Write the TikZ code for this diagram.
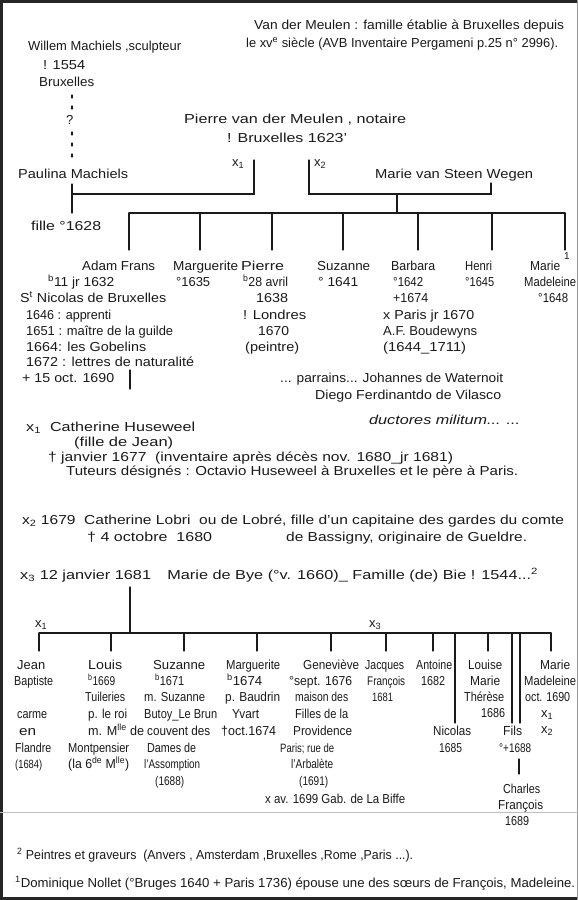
\documentclass[tikz,border=0pt]{standalone}
\usepackage{fontspec}
\setmainfont{Liberation Sans}
\usepackage{graphicx}
\definecolor{ink}{HTML}{1A1A1A}
\newsavebox\fitbox
\newlength\fitlen
\newcommand\fw[2]{\sbox\fitbox{#2}\setlength\fitlen{\wd\fitbox}\pgfmathsetmacro\fitfac{max(0.65,min(1.35,#1/\fitlen))}\pgfmathsetmacro\fitv{max(0.88,min(1,\fitfac+0.2))}\scalebox{\fitfac}[\fitv]{\usebox\fitbox}}
\tikzset{
  tx/.style={anchor=base west, inner sep=0pt, font=\fontsize{13}{15}\selectfont, text=ink},
  sm/.style={anchor=base west, inner sep=0pt, font=\fontsize{10}{12}\selectfont, text=ink},
  ln/.style={draw=ink, line width=1.2pt, line cap=round},
  dl/.style={ln, dash pattern=on 3pt off 8pt},
}
\begin{document}
\begin{tikzpicture}[x=1pt,y=-1pt]
\fill[white] (0,0) rectangle (578,900);
\useasboundingbox (0,0) rectangle (578,900);
% frame
\draw[line width=3pt, black!85] (0,1.5) -- (578,1.5);
\draw[line width=3pt, black!85] (1.5,0) -- (1.5,900);
\draw[line width=3pt, black!85] (0,898.5) -- (578,898.5);
\draw[line width=0.6pt, black!40] (577.5,0) -- (577.5,900);
\draw[line width=0.6pt, black!25] (0,812) -- (578,812);

% ---------- top ----------
\node[tx] (vdm1) at (254,29) {\fw{310}{Van der Meulen : famille établie à Bruxelles depuis}};
\node[tx] (vdm2) at (246,47) {\fw{312}{le xv\textsuperscript{e} siècle (AVB Inventaire Pergameni p.25 n° 2996).}};
\node[tx] (wil) at (28,50) {\fw{153}{Willem Machiels ,sculpteur}};
\node[tx] (wild) at (43,69) {\fw{42}{! 1554}};
\node[tx] (wilp) at (39,86) {\fw{55}{Bruxelles}};
\node[tx] (q) at (66,124) {?};
\coordinate (d1) at (72,95); \coordinate (d2) at (72,110);
\coordinate (d3) at (72,132); \coordinate (d4) at (72,160);
\draw[dl] (d1) -- (d2);
\draw[dl] (d3) -- (d4);

\node[tx] (pvm) at (184,123) {\fw{222}{Pierre van der Meulen , notaire}};
\node[tx] (pvmd) at (227,142) {\fw{120}{! Bruxelles 1623'}};
\node[tx] (xa) at (232,166) {x\textsubscript{1}};
\node[tx] (xb) at (314,166) {x\textsubscript{2}};
\node[tx] (pau) at (18,178) {\fw{110}{Paulina Machiels}};
\node[tx] (mvs) at (375,178) {\fw{158}{Marie van Steen Wegen}};
\node[tx] (fil) at (31,230) {\fw{70}{fille °1628}};

% brackets
\coordinate (pa1) at (72,184); \coordinate (pa2) at (72,213);
\coordinate (ba) at (72,194); \coordinate (bb) at (254,194); \coordinate (bc) at (254,160);
\draw[ln] (pa1) -- (pa2);
\draw[ln] (ba) -- (bb) -- (bc);
\coordinate (ra) at (309,160); \coordinate (rb) at (309,194);
\coordinate (rc) at (491,194); \coordinate (rd) at (491,183);
\draw[ln] (ra) -- (rb) -- (rc) -- (rd);
\coordinate (rm) at (397,194); \coordinate (rn) at (397,213);
\draw[ln] (rm) -- (rn);
\coordinate (barL) at (129,213); \coordinate (barR) at (565,213);
\draw[ln] (barL) -- (barR);
\foreach \x [count=\i] in {129,200,272,343,418,492,565}{
  \coordinate (ct\i) at (\x,213); \coordinate (cb\i) at (\x,250);
  \draw[ln] (ct\i) -- (cb\i);
}

% children row
\node[tx] (c1) at (82,270) {\fw{73}{Adam Frans}};
\node[tx] (c2) at (173,270) {\fw{65}{Marguerite}};
\node[tx] (c3) at (241,270) {\fw{43}{Pierre}};
\node[tx] (c4) at (317,270) {\fw{53}{Suzanne}};
\node[tx] (c5) at (391,270) {\fw{44}{Barbara}};
\node[tx] (c6) at (465,270) {\fw{27}{Henri}};
\node[tx] (c7) at (530,270) {\fw{30}{Marie}};
\node[sm] (c7s) at (564,259) {1};

\node[tx] (c1b) at (48,286) {\fw{66}{\textsuperscript{b}11 jr 1632}};
\node[tx] (c2b) at (176,286) {\fw{34}{°1635}};
\node[tx] (c3b) at (243,286) {\fw{45}{\textsuperscript{b}28 avril}};
\node[tx] (c4b) at (318,286) {\fw{40}{° 1641}};
\node[tx] (c5b) at (393,286) {\fw{30}{°1642}};
\node[tx] (c6b) at (465,286) {\fw{29}{°1645}};
\node[tx] (c7b) at (524,286) {\fw{52}{Madeleine}};

\node[tx] (c1c) at (20,302) {\fw{146}{S\textsuperscript{t} Nicolas de Bruxelles}};
\node[tx] (c3c) at (256,302) {\fw{32}{1638}};
\node[tx] (c5c) at (393,302) {\fw{35}{+1674}};
\node[tx] (c7c) at (538,302) {\fw{30}{°1648}};

\node[tx] (a1) at (26,319) {\fw{85}{1646 : apprenti}};
\node[tx] (a2) at (26,335) {\fw{147}{1651 : maître de la guilde}};
\node[tx] (a3) at (26,351) {\fw{120}{1664: les Gobelins}};
\node[tx] (a4) at (26,366) {\fw{168}{1672 : lettres de naturalité}};
\node[tx] (a5) at (22,382) {\fw{92}{+ 15 oct. 1690}};
\coordinate (al1) at (130,370); \coordinate (al2) at (130,389);
\draw[ln] (al1) -- (al2);

\node[tx] (p1) at (243,319) {\fw{63}{! Londres}};
\node[tx] (p2) at (258,335) {\fw{31}{1670}};
\node[tx] (p3) at (245,351) {\fw{54}{(peintre)}};

\node[tx] (b1) at (383,319) {\fw{91}{x Paris jr 1670}};
\node[tx] (b2) at (383,335) {\fw{94}{A.F. Boudewyns}};
\node[tx] (b3) at (383,351) {\fw{83}{(1644\_1711)}};

\node[tx] (par1) at (280,382) {\fw{223}{... parrains... Johannes de Waternoit}};
\node[tx] (par2) at (315,399) {\fw{186}{Diego Ferdinantdo de Vilasco}};
\node[tx] (par3) at (369,424) {\fw{151}{\itshape ductores militum... ...}};

% marriages
\node[tx] (m1) at (26,431) {\fw{169}{x\textsubscript{1}\ \ Catherine Huseweel}};
\node[tx] (m1b) at (74,446) {\fw{99}{(fille de Jean)}};
\node[tx] (m1c) at (48,461) {\fw{405}{† janvier 1677\ \ (inventaire après décès nov. 1680\_jr 1681)}};
\node[tx] (m1d) at (66,475) {\fw{452}{Tuteurs désignés : Octavio Huseweel à Bruxelles et le père à Paris.}};
\node[tx] (m2) at (22,524) {\fw{542}{x\textsubscript{2} 1679\ \ Catherine Lobri\ \ ou de Lobré, fille d'un capitaine des gardes du comte}};
\node[tx] (m2b) at (87,541) {\fw{125}{† 4 octobre\ \ 1680}};
\node[tx] (m2c) at (286,541) {\fw{241}{de Bassigny, originaire de Gueldre.}};
\node[tx] (m3) at (20,579) {\fw{518}{x\textsubscript{3} 12 janvier 1681\quad Marie de Bye (°v. 1660)\_ Famille (de) Bie ! 1544...\textsuperscript{2}}};

% lower tree
\coordinate (lt) at (130,587); \coordinate (lb) at (130,633);
\draw[ln] (lt) -- (lb);
\coordinate (lbarL) at (39,633); \coordinate (lbarR) at (551,633);
\draw[ln] (lbarL) -- (lbarR);
\node[tx] (lx1) at (35,627) {x\textsubscript{1}};
\node[tx] (lx3) at (369,627) {x\textsubscript{3}};
\foreach \x [count=\i] in {39,111,184,257,331,386,433,488,551}{
  \coordinate (kt\i) at (\x,633); \coordinate (kb\i) at (\x,651);
  \draw[ln] (kt\i) -- (kb\i);
}
\foreach \x [count=\i] in {455,512,520}{
  \coordinate (lt\i) at (\x,633); \coordinate (lbb\i) at (\x,723);
  \draw[ln] (lt\i) -- (lbb\i);
}
\coordinate (cf1) at (519,759); \coordinate (cf2) at (519,774);
\draw[ln] (cf1) -- (cf2);

% lower names
\node[tx] (g1) at (17,669) {\fw{28}{Jean}};
\node[tx] (g2) at (88,669) {\fw{34}{Louis}};
\node[tx] (g3) at (153,669) {\fw{52}{Suzanne}};
\node[tx] (g4) at (226,669) {\fw{54}{Marguerite}};
\node[tx] (g5) at (303,669) {\fw{56}{Geneviève}};
\node[tx] (g6) at (365,669) {\fw{39}{Jacques}};
\node[tx] (g7) at (416,669) {\fw{36}{Antoine}};
\node[tx] (g8) at (468,669) {\fw{34}{Louise}};
\node[tx] (g9) at (540,669) {\fw{30}{Marie}};

\node[tx] (g1b) at (14,685) {\fw{39}{Baptiste}};
\node[tx] (g2b) at (88,685) {\fw{27}{\textsuperscript{b}1669}};
\node[tx] (g3b) at (155,685) {\fw{29}{\textsuperscript{b}1671}};
\node[tx] (g4b) at (227,685) {\fw{35}{\textsuperscript{b}1674}};
\node[tx] (g5b) at (289,685) {\fw{63}{°sept. 1676}};
\node[tx] (g6b) at (367,685) {\fw{38}{François}};
\node[tx] (g7b) at (421,685) {\fw{24}{1682}};
\node[tx] (g8b) at (470,685) {\fw{30}{Marie}};
\node[tx] (g9b) at (524,685) {\fw{52}{Madeleine}};

\node[tx] (g2c) at (85,701) {\fw{40}{Tuileries}};
\node[tx] (g3c) at (144,701) {\fw{61}{m. Suzanne}};
\node[tx] (g4c) at (225,701) {\fw{55}{p. Baudrin}};
\node[tx] (g5c) at (295,701) {\fw{53}{maison des}};
\node[tx] (g6c) at (372,701) {\fw{21}{1681}};
\node[tx] (g8c) at (464,701) {\fw{40}{Thérèse}};
\node[tx] (g9c) at (525,701) {\fw{45}{oct. 1690}};

\node[tx] (g1d) at (17,718) {\fw{30}{carme}};
\node[tx] (g2d) at (88,718) {\fw{39}{p. le roi}};
\node[tx] (g3d) at (144,718) {\fw{73}{Butoy\_Le Brun}};
\node[tx] (g4d) at (232,718) {\fw{27}{Yvart}};
\node[tx] (g5d) at (295,718) {\fw{53}{Filles de la}};
\node[tx] (g8d) at (481,717) {\fw{24}{1686}};
\node[tx] (g9d) at (541,717) {x\textsubscript{1}};

\node[tx] (g1e) at (19,735) {\fw{17}{en}};
\node[tx] (g2e) at (88,735) {\fw{56}{m. M\textsuperscript{lle} de}};
\node[tx] (g3e) at (147,735) {\fw{63}{couvent des}};
\node[tx] (g4e) at (221,735) {\fw{55}{†oct.1674}};
\node[tx] (g5e) at (293,735) {\fw{59}{Providence}};
\node[tx] (g9e) at (541,733) {x\textsubscript{2}};
\node[tx] (nic) at (433,735) {\fw{38}{Nicolas}};
\node[tx] (fils) at (503,735) {\fw{19}{Fils}};

\node[tx] (g1f) at (15,752) {\fw{36}{Flandre}};
\node[tx] (g2f) at (68,752) {\fw{61}{Montpensier}};
\node[tx] (g3f) at (147,752) {\fw{49}{Dames de}};
\node[tx] (g5f) at (280,752) {\fw{54}{Paris; rue de}};
\node[tx] (nicb) at (439,752) {\fw{23}{1685}};
\node[tx] (filsb) at (499,752) {\fw{32}{°+1688}};

\node[tx] (g1g) at (15,768) {\fw{27}{(1684)}};
\node[tx] (g2g) at (68,768) {\fw{61}{(la 6\textsuperscript{de} M\textsuperscript{lle})}};
\node[tx] (g3g) at (144,768) {\fw{56}{l'Assomption}};
\node[tx] (g5g) at (291,768) {\fw{42}{l'Arbalète}};

\node[tx] (g3h) at (155,785) {\fw{29}{(1688)}};
\node[tx] (g5h) at (299,785) {\fw{29}{(1691)}};
\node[tx] (ch1) at (503,793) {\fw{37}{Charles}};
\node[tx] (g5i) at (265,803) {\fw{140}{x av. 1699 Gab. de La Biffe}};
\node[tx] (ch2) at (498,809) {\fw{45}{François}};
\node[tx] (ch3) at (505,825) {\fw{24}{1689}};

% footnotes
\node[tx] (fn2) at (17,859) {\fw{396}{\textsuperscript{2} Peintres et graveurs\ \ (Anvers , Amsterdam ,Bruxelles ,Rome ,Paris ...).}};
\node[tx] (fn1) at (15,887) {\fw{560}{\textsuperscript{1}Dominique Nollet (°Bruges 1640 + Paris 1736) épouse une des sœurs de François, Madeleine.}};
\end{tikzpicture}
\end{document}
